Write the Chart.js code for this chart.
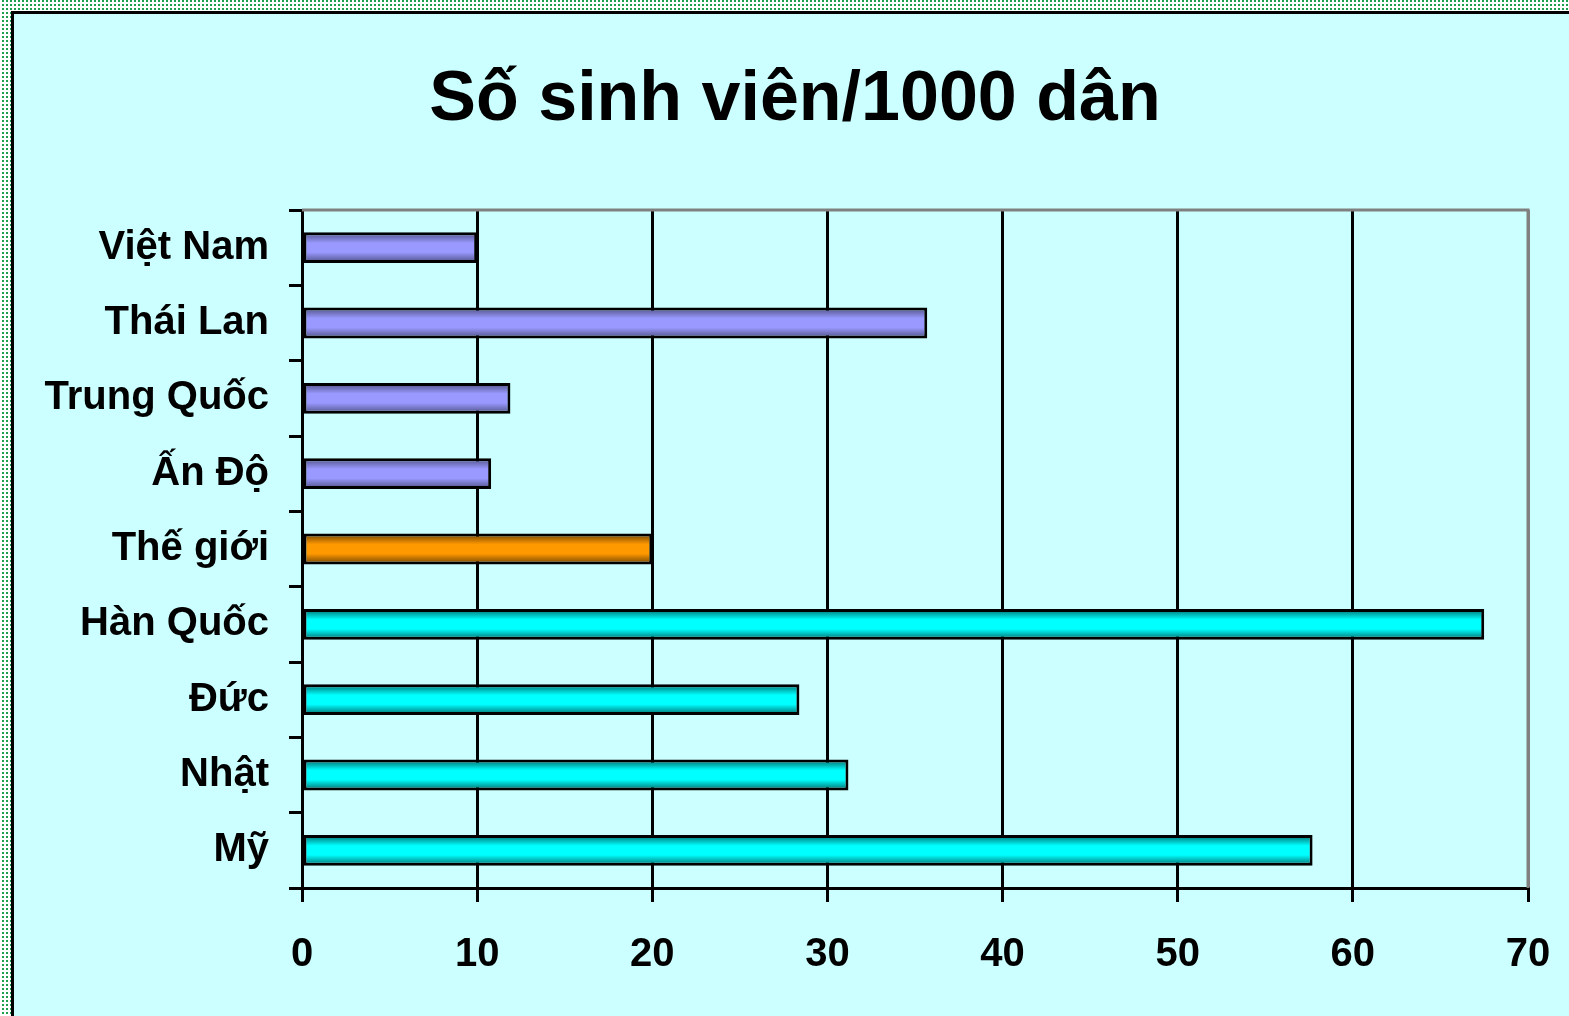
<!DOCTYPE html>
<html>
<head>
<meta charset="utf-8">
<script src="https://cdn.jsdelivr.net/npm/chart.js@4"></script>
<style>
  body {
    margin: 0;
    width: 1569px;
    height: 1016px;
    overflow: hidden;
    position: relative;
    background: conic-gradient(#1f9e50 25%, #ffffff 0) 0 0 / 4px 4px;
  }
  .frame {
    position: absolute;
    left: 11px;
    top: 11px;
    width: 1558px;
    height: 1005px;
    box-sizing: border-box;
    border-left: 3px solid #000;
    border-top: 3px solid #000;
    background: #ccffff;
  }
  canvas {
    position: absolute;
    left: 0;
    top: 0;
  }
</style>
</head>
<body>
<div class="frame"></div>
<canvas id="students" width="1569" height="1016"></canvas>
<script>
// categories, top to bottom
const countries = ["Việt Nam", "Thái Lan", "Trung Quốc", "Ấn Độ", "Thế giới", "Hàn Quốc", "Đức", "Nhật", "Mỹ"];
// students per 1000 people
const perThousand = [10.0, 35.7, 11.9, 10.8, 20.0, 67.5, 28.4, 31.2, 57.7];
// colour group of each bar
const groups = ["asia", "asia", "asia", "asia", "world", "dev", "dev", "dev", "dev"];
const xTicks = [0, 10, 20, 30, 40, 50, 60, 70];

const barPct = 0.41;

// light / dark shades per group (bars shaded like a cylinder)
const shades = {
  asia: ["#9999ff", "#4d4d80"],
  world: ["#ff9900", "#6b4000"],
  dev: ["#00ffff", "#006666"],
};

function barFill(ctx) {
  const g = groups[ctx.dataIndex];
  const [light, dark] = shades[g] || shades.dev;
  const chart = ctx.chart;
  const ys = chart.scales.y;
  if (!ys || !chart.chartArea) return light;
  const mid = ys.getPixelForValue(ctx.dataIndex);
  const half = (ys.height / countries.length) * barPct / 2;
  const grad = chart.ctx.createLinearGradient(0, mid - half, 0, mid + half);
  grad.addColorStop(0, dark);
  grad.addColorStop(0.35, light);
  grad.addColorStop(0.65, light);
  grad.addColorStop(1, dark);
  return grad;
}

// gray top/right border of the plot area
const plotBorder = {
  id: "plotBorder",
  beforeDatasetsDraw(chart) {
    const { ctx, chartArea } = chart;
    ctx.save();
    ctx.strokeStyle = "#808080";
    ctx.lineWidth = 3;
    ctx.beginPath();
    ctx.moveTo(chartArea.left, chartArea.top);
    ctx.lineTo(chartArea.right, chartArea.top);
    ctx.lineTo(chartArea.right, chartArea.bottom);
    ctx.stroke();
    ctx.restore();
  },
};

const chartData = {
  labels: countries,
  datasets: [
    {
      data: perThousand,
      backgroundColor: barFill,
      borderColor: "#000",
      borderWidth: 3,
      borderSkipped: false,
      barPercentage: barPct,
      categoryPercentage: 1,
    },
  ],
};

const labelFont = { family: "Liberation Sans, Arial", size: 40, weight: "bold" };

const chartConfig = {
  type: "bar",
  data: chartData,
  plugins: [plotBorder],
  options: {
    indexAxis: "y",
    responsive: false,
    animation: false,
    layout: {
      autoPadding: false,
      padding: { left: 21, right: 0, top: 0, bottom: 0 },
    },
    scales: {
      x: {
        min: 0,
        max: 70,
        afterBuildTicks: (scale) => {
          scale.ticks = xTicks.map((v) => ({ value: v }));
        },
        afterFit: (scale) => {
          scale.height = 128;
          scale.paddingLeft = 0;
          scale.paddingRight = 0;
        },
        border: { color: "#000", width: 3 },
        grid: {
          color: (c) => (c.tick && c.tick.value === 70 ? "#808080" : "#000"),
          tickColor: "#000",
          lineWidth: 3,
          tickLength: 14,
        },
        ticks: {
          color: "#000",
          padding: 29,
          font: labelFont,
        },
      },
      y: {
        afterFit: (scale) => {
          scale.width = 281;
          scale.paddingTop = 0;
          scale.paddingBottom = 0;
        },
        border: { color: "#000", width: 3 },
        grid: {
          drawOnChartArea: false,
          tickColor: "#000",
          lineWidth: 3,
          tickLength: 13,
        },
        ticks: {
          color: "#000",
          padding: 20,
          font: labelFont,
        },
      },
      // empty right-hand strip, keeps the plot off the right edge
      gap: {
        type: "linear",
        position: "right",
        display: true,
        afterFit: (scale) => {
          scale.width = 41;
          scale.paddingTop = 0;
          scale.paddingBottom = 0;
        },
        border: { display: false },
        grid: { display: false },
        ticks: { display: false },
      },
    },
    plugins: {
      legend: { display: false },
      tooltip: { enabled: false },
      title: {
        display: true,
        text: "Số sinh viên/1000 dân",
        color: "#000",
        font: { family: "Liberation Sans, Arial", size: 70, weight: "bold", lineHeight: 1.2 },
        padding: { top: 59, bottom: 67 },
      },
    },
  },
};

const studentsChart = new Chart(document.getElementById("students"), chartConfig);
</script>
</body>
</html>
